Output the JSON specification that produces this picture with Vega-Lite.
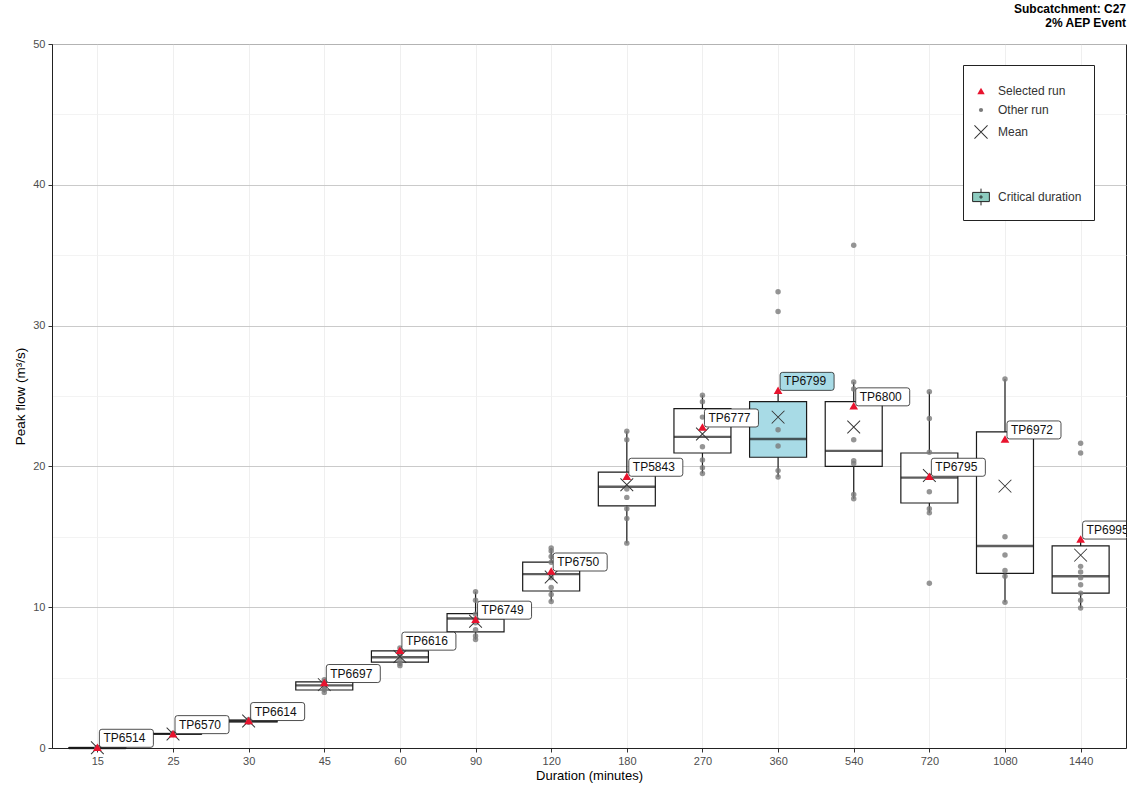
{
  "$schema": "https://vega.github.io/schema/vega-lite/v6.json",
  "width": 1074,
  "height": 704,
  "autosize": {"type": "none"},
  "padding": {"left": 52, "top": 44, "right": 12, "bottom": 41},
  "background": "white",
  "title": {"text": ["Subcatchment: C27", "2% AEP Event"], "anchor": "end", "frame": "group", "fontSize": 12, "fontWeight": "bold", "font": "Liberation Sans", "color": "#000000", "offset": 8, "lineHeight": 14},
  "config": {"view": {"stroke": "#222222", "strokeWidth": 1}, "font": "Liberation Sans"},
  "datasets": {
    "stats": [
      {"d": "15", "lo": 0, "q1": 0, "med": 0, "q3": 0.02, "hi": 0.05, "mean": 0.02, "sel": 0.05, "tp": "TP6514", "crit": false},
      {"d": "25", "lo": 0.95, "q1": 0.98, "med": 1.0, "q3": 1.02, "hi": 1.05, "mean": 1.0, "sel": 1.02, "tp": "TP6570", "crit": false},
      {"d": "30", "lo": 1.8, "q1": 1.85, "med": 1.92, "q3": 1.98, "hi": 2.05, "mean": 1.92, "sel": 1.95, "tp": "TP6614", "crit": false},
      {"d": "45", "lo": 3.95, "q1": 4.12, "med": 4.45, "q3": 4.69, "hi": 4.85, "mean": 4.5, "sel": 4.65, "tp": "TP6697", "crit": false},
      {"d": "60", "lo": 5.85, "q1": 6.1, "med": 6.45, "q3": 6.9, "hi": 7.1, "mean": 6.5, "sel": 6.95, "tp": "TP6616", "crit": false},
      {"d": "90", "lo": 7.7, "q1": 8.25, "med": 9.2, "q3": 9.55, "hi": 11.1, "mean": 9.0, "sel": 9.15, "tp": "TP6749", "crit": false},
      {"d": "120", "lo": 10.4, "q1": 11.15, "med": 12.35, "q3": 13.2, "hi": 14.2, "mean": 12.15, "sel": 12.57, "tp": "TP6750", "crit": false},
      {"d": "180", "lo": 14.55, "q1": 17.2, "med": 18.55, "q3": 19.6, "hi": 22.5, "mean": 18.7, "sel": 19.3, "tp": "TP5843", "crit": false},
      {"d": "270", "lo": 19.5, "q1": 20.95, "med": 22.1, "q3": 24.1, "hi": 25.05, "mean": 22.3, "sel": 22.8, "tp": "TP6777", "crit": false},
      {"d": "360", "lo": 19.25, "q1": 20.65, "med": 21.95, "q3": 24.6, "hi": 25.4, "mean": 23.5, "sel": 25.4, "tp": "TP6799", "crit": true},
      {"d": "540", "lo": 17.7, "q1": 20.0, "med": 21.1, "q3": 24.6, "hi": 26.0, "mean": 22.8, "sel": 24.3, "tp": "TP6800", "crit": false},
      {"d": "720", "lo": 16.7, "q1": 17.4, "med": 19.2, "q3": 20.95, "hi": 25.3, "mean": 19.35, "sel": 19.3, "tp": "TP6795", "crit": false},
      {"d": "1080", "lo": 10.35, "q1": 12.4, "med": 14.35, "q3": 22.45, "hi": 26.2, "mean": 18.6, "sel": 21.95, "tp": "TP6972", "crit": false},
      {"d": "1440", "lo": 9.94, "q1": 11.0, "med": 12.2, "q3": 14.35, "hi": 14.84, "mean": 13.7, "sel": 14.84, "tp": "TP6995", "crit": false}
    ],
    "runs": [
      {"d": "15", "v": 0}, {"d": "15", "v": 0.01}, {"d": "15", "v": 0.02}, {"d": "15", "v": 0.03},
      {"d": "25", "v": 0.96}, {"d": "25", "v": 0.98}, {"d": "25", "v": 1.0}, {"d": "25", "v": 1.02}, {"d": "25", "v": 1.04},
      {"d": "30", "v": 1.82}, {"d": "30", "v": 1.88}, {"d": "30", "v": 1.92}, {"d": "30", "v": 1.96}, {"d": "30", "v": 2.03},
      {"d": "45", "v": 3.95}, {"d": "45", "v": 4.15}, {"d": "45", "v": 4.3}, {"d": "45", "v": 4.5}, {"d": "45", "v": 4.7}, {"d": "45", "v": 4.85},
      {"d": "60", "v": 5.85}, {"d": "60", "v": 6.0}, {"d": "60", "v": 6.2}, {"d": "60", "v": 6.5}, {"d": "60", "v": 6.7}, {"d": "60", "v": 7.1},
      {"d": "90", "v": 7.7}, {"d": "90", "v": 7.95}, {"d": "90", "v": 8.4}, {"d": "90", "v": 8.9}, {"d": "90", "v": 9.5}, {"d": "90", "v": 10.5}, {"d": "90", "v": 11.1},
      {"d": "120", "v": 10.4}, {"d": "120", "v": 10.9}, {"d": "120", "v": 11.4}, {"d": "120", "v": 12.1}, {"d": "120", "v": 13.2}, {"d": "120", "v": 13.6}, {"d": "120", "v": 14.0}, {"d": "120", "v": 14.2},
      {"d": "180", "v": 14.55}, {"d": "180", "v": 16.3}, {"d": "180", "v": 17.0}, {"d": "180", "v": 17.8}, {"d": "180", "v": 18.4}, {"d": "180", "v": 21.9}, {"d": "180", "v": 22.5},
      {"d": "270", "v": 19.5}, {"d": "270", "v": 19.9}, {"d": "270", "v": 20.45}, {"d": "270", "v": 21.4}, {"d": "270", "v": 23.5}, {"d": "270", "v": 24.6}, {"d": "270", "v": 25.05},
      {"d": "360", "v": 19.25}, {"d": "360", "v": 19.7}, {"d": "360", "v": 21.45}, {"d": "360", "v": 22.6}, {"d": "360", "v": 31.0}, {"d": "360", "v": 32.4},
      {"d": "540", "v": 17.7}, {"d": "540", "v": 18.0}, {"d": "540", "v": 20.2}, {"d": "540", "v": 20.4}, {"d": "540", "v": 21.9}, {"d": "540", "v": 25.5}, {"d": "540", "v": 26.0}, {"d": "540", "v": 35.7},
      {"d": "720", "v": 11.7}, {"d": "720", "v": 16.7}, {"d": "720", "v": 17.0}, {"d": "720", "v": 18.2}, {"d": "720", "v": 21.0}, {"d": "720", "v": 23.4}, {"d": "720", "v": 25.3},
      {"d": "1080", "v": 10.35}, {"d": "1080", "v": 12.2}, {"d": "1080", "v": 12.6}, {"d": "1080", "v": 13.7}, {"d": "1080", "v": 15.0}, {"d": "1080", "v": 26.2},
      {"d": "1440", "v": 9.94}, {"d": "1440", "v": 10.5}, {"d": "1440", "v": 11.0}, {"d": "1440", "v": 11.6}, {"d": "1440", "v": 12.1}, {"d": "1440", "v": 12.5}, {"d": "1440", "v": 12.9}, {"d": "1440", "v": 20.95}, {"d": "1440", "v": 21.65}
    ]
  },
  "layer": [
    {
      "data": {"name": "stats"},
      "mark": {"type": "rule", "color": "#1a1a1a", "strokeWidth": 1.2},
      "encoding": {
        "x": {"field": "d", "type": "ordinal",
          "scale": {"type": "point", "domain": ["15", "25", "30", "45", "60", "90", "120", "180", "270", "360", "540", "720", "1080", "1440"], "padding": 0.6},
          "axis": {"title": "Duration (minutes)", "grid": true, "gridColor": "#ebebeb", "gridWidth": 0.8, "labelAngle": 0, "labelColor": "#4d4d4d", "labelFontSize": 11, "tickColor": "#333333", "tickSize": 4, "domainColor": "#222222", "titleFontSize": 13, "titleFontWeight": "normal", "titleColor": "#000000", "titlePadding": 3, "labelPadding": 3}},
        "y": {"field": "lo", "type": "quantitative", "scale": {"domain": [0, 50], "nice": false, "zero": false},
          "axis": {"orient": "right", "values": [5, 15, 25, 35, 45], "grid": true, "gridColor": "#f0f0f0", "gridWidth": 0.8, "labels": false, "ticks": false, "domain": false, "title": null}},
        "y2": {"field": "hi"}
      }
    },
    {
      "data": {"name": "stats"},
      "mark": {"type": "bar", "size": 57, "stroke": "#1a1a1a", "strokeWidth": 1.2},
      "encoding": {
        "x": {"field": "d", "type": "ordinal"},
        "y": {"field": "q1", "type": "quantitative",
          "axis": {"values": [0, 10, 20, 30, 40, 50], "grid": true, "gridColor": "#c4c4c4", "gridWidth": 0.9, "title": "Peak flow  (m³/s)", "tickColor": "#333333", "tickSize": 4, "labelColor": "#4d4d4d", "labelFontSize": 11, "domainColor": "#222222", "titleFontSize": 13.5, "titleFontWeight": "normal", "titleColor": "#000000", "titlePadding": 5, "labelPadding": 3}},
        "y2": {"field": "q3"},
        "fill": {"condition": {"test": "datum.crit", "value": "#a8dbe6"}, "value": "#ffffff"}
      }
    },
    {
      "data": {"name": "stats"},
      "mark": {"type": "tick", "size": 57, "thickness": 2.4, "color": "#1a1a1a", "orient": "horizontal"},
      "encoding": {
        "x": {"field": "d", "type": "ordinal"},
        "y": {"field": "med", "type": "quantitative", "axis": null}
      }
    },
    {
      "data": {"name": "runs"},
      "mark": {"type": "point", "filled": true, "opacity": 0.8, "size": 30},
      "encoding": {
        "x": {"field": "d", "type": "ordinal"},
        "y": {"field": "v", "type": "quantitative", "axis": null},
        "color": {"datum": "Other run", "type": "nominal",
          "scale": {"domain": ["Selected run", "Other run", "Mean", " ", "  ", "Critical duration"], "range": ["#e8132e", "#7a7a7a", "#333333", "rgba(0,0,0,0)", "rgba(0,0,0,0)", "#8ccbbf"]},
          "legend": {"orient": "none", "legendX": 911, "legendY": 21, "title": " ", "titleFontSize": 6, "titlePadding": 2, "fillColor": "#ffffff", "strokeColor": "#222222", "padding": 12, "labelFontSize": 12, "labelColor": "#333333", "labelFont": "Liberation Sans", "rowPadding": 7, "labelOffset": 11, "symbolOpacity": 1,
            "encode": {"symbols": {"update": {
              "size": {"signal": "datum.value === 'Mean' ? 190 : datum.value === 'Critical duration' ? 280 : datum.value === 'Selected run' ? 55 : datum.value === 'Other run' ? 18 : 10"},
              "stroke": {"signal": "datum.value === 'Critical duration' ? '#222222' : 'rgba(0,0,0,0)'"},
              "strokeWidth": {"value": 1},
              "opacity": {"value": 1}
            }}}}},
        "shape": {"datum": "Other run", "type": "nominal",
          "scale": {"domain": ["Selected run", "Other run", "Mean", " ", "  ", "Critical duration"], "range": ["triangle-up", "circle", "M-1,-0.9L-0.9,-1L1,0.9L0.9,1ZM0.9,-1L1,-0.9L-0.9,1L-1,0.9Z", "circle", "circle", "M-1,-0.55H1V0.55H-1ZM0,-1V-0.55M0,0.55V1M0.14,0A0.14,0.14 0 1,1 -0.14,0A0.14,0.14 0 1,1 0.14,0Z"]}}
      }
    },
    {
      "data": {"name": "stats"},
      "mark": {"type": "point", "filled": true, "size": 180, "opacity": 1},
      "encoding": {
        "x": {"field": "d", "type": "ordinal"},
        "y": {"field": "mean", "type": "quantitative", "axis": null},
        "color": {"datum": "Mean", "type": "nominal"},
        "shape": {"datum": "Mean", "type": "nominal"}
      }
    },
    {
      "data": {"name": "stats"},
      "mark": {"type": "point", "filled": true, "size": 75, "opacity": 1},
      "encoding": {
        "x": {"field": "d", "type": "ordinal"},
        "y": {"field": "sel", "type": "quantitative", "axis": null},
        "color": {"datum": "Selected run", "type": "nominal"},
        "shape": {"datum": "Selected run", "type": "nominal"}
      }
    },
    {
      "data": {"name": "stats"},
      "mark": {"type": "point", "filled": true, "clip": true, "size": 400, "opacity": 1, "stroke": "#222222", "strokeWidth": 0.8,
        "shape": "M0.45,0H5.35Q5.6,0 5.6,-0.25V-1.55Q5.6,-1.8 5.35,-1.8H0.45Q0.2,-1.8 0.2,-1.55V-0.25Q0.2,0 0.45,0Z"},
      "encoding": {
        "x": {"field": "d", "type": "ordinal"},
        "y": {"field": "sel", "type": "quantitative", "axis": null},
        "fill": {"condition": {"test": "datum.crit", "value": "#a8dbe6"}, "value": "#ffffff"}
      }
    },
    {
      "data": {"name": "stats"},
      "mark": {"type": "text", "clip": true, "align": "left", "baseline": "middle", "dx": 6, "dy": -9, "fontSize": 12, "color": "#111111", "font": "Liberation Sans"},
      "encoding": {
        "x": {"field": "d", "type": "ordinal"},
        "y": {"field": "sel", "type": "quantitative", "axis": null},
        "text": {"field": "tp", "type": "nominal"}
      }
    }
  ],
  "resolve": {"axis": {"y": "independent"}}
}
